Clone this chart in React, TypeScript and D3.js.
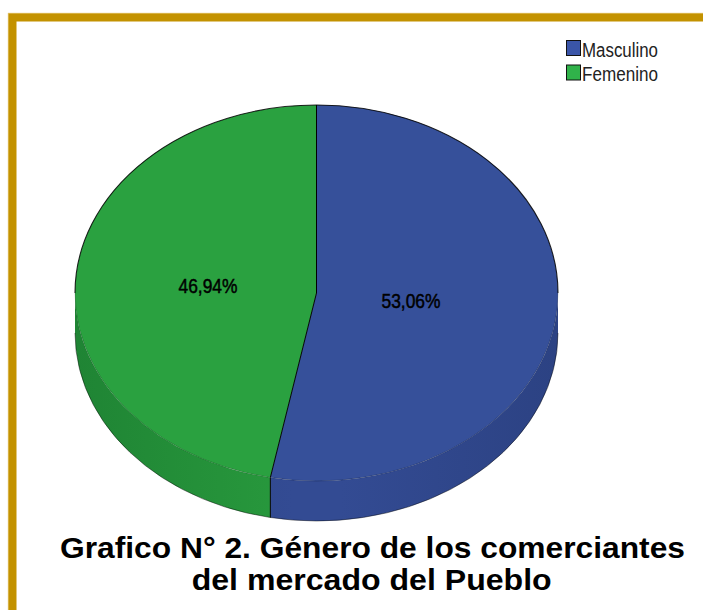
import React from "react";
import * as d3 from "d3";

const categories = ["Masculino", "Femenino"];
const values = [53.06, 46.94];
const valueLabels = ["53,06%", "46,94%"];
const colors = ["#36509A", "#2AA140"];
const sideDark = ["#2C4283", "#1F8434"];
const sideMid = ["#334B93", "#28993D"];
const titleLines = ["Grafico N° 2. Género de los comerciantes", "del mercado del Pueblo"];

const W = 703;
const H = 610;
const cx = 316.5;
const cy = 293;
const rx = 241.5;
const ry = 188;
const depth = 40;

function pt(a: number, dy = 0): [number, number] {
  return [cx + rx * Math.sin(a), cy - ry * Math.cos(a) + dy];
}

export default function App() {
  const pie = d3.pie<number>().sort(null).value((d) => d);
  const arcs = pie(values);

  const topPath = (a0: number, a1: number) => {
    const p0 = pt(a0);
    const p1 = pt(a1);
    const large = a1 - a0 > Math.PI ? 1 : 0;
    return `M${cx},${cy}L${p0[0]},${p0[1]}A${rx},${ry} 0 ${large} 1 ${p1[0]},${p1[1]}Z`;
  };

  const sidePath = (a0: number, a1: number) => {
    const s = Math.max(a0, Math.PI / 2);
    const e = Math.min(a1, (3 * Math.PI) / 2);
    if (e <= s) return null;
    const p0 = pt(s);
    const p1 = pt(e);
    const q1 = pt(e, depth);
    const q0 = pt(s, depth);
    return `M${p0[0]},${p0[1]}A${rx},${ry} 0 0 1 ${p1[0]},${p1[1]}L${q1[0]},${q1[1]}A${rx},${ry} 0 0 0 ${q0[0]},${q0[1]}Z`;
  };

  const labelPos: [number, number][] = [
    [411, 308],
    [208, 293],
  ];

  const split = arcs[0].endAngle;
  const sp = pt(split);
  const left = pt((3 * Math.PI) / 2);
  const right = pt(Math.PI / 2);
  const backArc = `M${left[0]},${left[1]}A${rx},${ry} 0 0 1 ${right[0]},${right[1]}`;
  const frontArc = `M${right[0]},${right[1]}A${rx},${ry} 0 0 1 ${left[0]},${left[1]}`;
  const bl = pt((3 * Math.PI) / 2, depth);
  const br = pt(Math.PI / 2, depth);
  const bottomArc = `M${br[0]},${br[1]}A${rx},${ry} 0 0 1 ${bl[0]},${bl[1]}`;

  return (
    <svg
      width={W}
      height={H}
      style={{ position: "absolute", left: 0, top: 0, background: "#fff" }}
      fontFamily="Liberation Sans, Arial, sans-serif"
    >
      <defs>
        {arcs.map((_, i) => (
          <linearGradient
            key={i}
            id={`side${i}`}
            gradientUnits="userSpaceOnUse"
            x1={cx - rx}
            y1={0}
            x2={cx + rx}
            y2={0}
          >
            <stop offset="0" stopColor={sideDark[i]} />
            <stop offset="0.45" stopColor={sideMid[i]} />
            <stop offset="0.55" stopColor={sideMid[i]} />
            <stop offset="1" stopColor={sideDark[i]} />
          </linearGradient>
        ))}
      </defs>

      {/* gold frame */}
      <rect x={8} y={13} width={W - 8} height={8.5} fill="#C39200" />
      <rect x={8} y={13} width={8.5} height={H - 13} fill="#C39200" />
      <line x1={8} y1={13.3} x2={W} y2={13.3} stroke="#E2C46A" strokeWidth={0.8} />
      <line x1={8.3} y1={13} x2={8.3} y2={H} stroke="#E2C46A" strokeWidth={0.8} />

      {/* sides */}
      {arcs.map((a, i) => {
        const d = sidePath(a.startAngle, a.endAngle);
        return d ? <path key={`s${i}`} d={d} fill={`url(#side${i})`} /> : null;
      })}
      <path d={bottomArc} fill="none" stroke="#000" strokeOpacity={0.55} strokeWidth={0.8} />
      <line x1={sp[0]} y1={sp[1]} x2={sp[0]} y2={sp[1] + depth} stroke="#000" strokeWidth={1} />

      {/* top faces */}
      {arcs.map((a, i) => (
        <path key={`t${i}`} d={topPath(a.startAngle, a.endAngle)} fill={colors[i]} />
      ))}
      <path d={frontArc} fill="none" stroke="#000" strokeOpacity={0.25} strokeWidth={0.8} />
      <path d={backArc} fill="none" stroke="#000" strokeOpacity={0.85} strokeWidth={1.1} />
      {arcs.map((a, i) => {
        const p = pt(a.startAngle);
        return <line key={`d${i}`} x1={cx} y1={cy} x2={p[0]} y2={p[1]} stroke="#000" strokeWidth={1} />;
      })}

      {/* labels */}
      {arcs.map((_, i) => (
        <text
          key={`l${i}`}
          x={labelPos[i][0]}
          y={labelPos[i][1]}
          textAnchor="middle"
          fontSize={21}
          fill="#000"
          stroke="#000"
          strokeWidth={0.5}
          textLength={59}
          lengthAdjust="spacingAndGlyphs"
        >
          {valueLabels[i]}
        </text>
      ))}

      {/* legend */}
      {categories.map((c, i) => (
        <g key={`lg${i}`} transform={`translate(566,${40 + i * 24.5})`}>
          <rect x={0.5} y={0.5} width={14} height={15} fill={i === 0 ? "#3A55A8" : "#30B24A"} stroke="#111" strokeWidth={1} />
          <text
            x={16}
            y={16.5}
            fontSize={20}
            fill="#222"
            textLength={76}
            lengthAdjust="spacingAndGlyphs"
          >
            {c}
          </text>
        </g>
      ))}

      {/* title */}
      <text
        x={372.5}
        y={558}
        textAnchor="middle"
        fontSize={29}
        fontWeight="bold"
        fill="#000"
        textLength={625}
        lengthAdjust="spacingAndGlyphs"
      >
        {titleLines[0]}
      </text>
      <text
        x={371.7}
        y={590}
        textAnchor="middle"
        fontSize={29}
        fontWeight="bold"
        fill="#000"
        textLength={360}
        lengthAdjust="spacingAndGlyphs"
      >
        {titleLines[1]}
      </text>
    </svg>
  );
}
